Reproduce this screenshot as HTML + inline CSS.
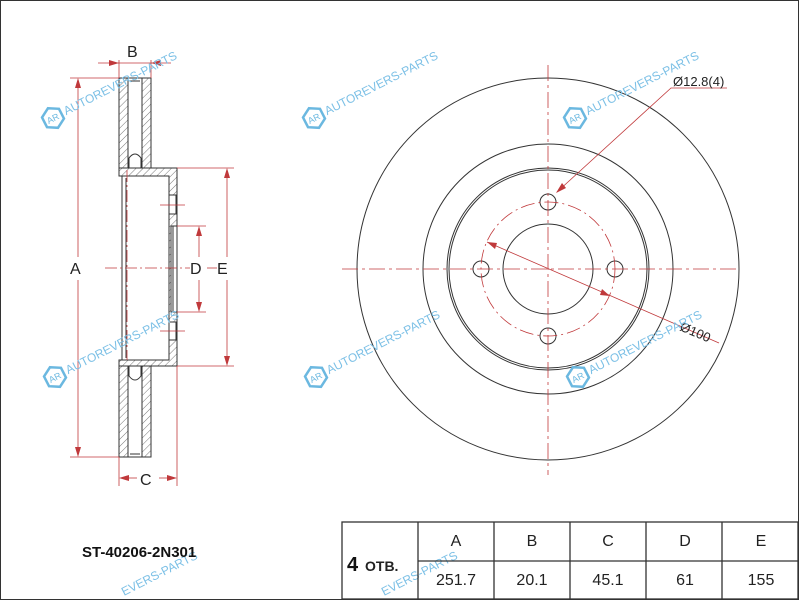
<!DOCTYPE html>
<html><head><meta charset="utf-8"><style>
html,body{margin:0;padding:0;background:#fff;width:800px;height:600px;overflow:hidden;}
svg{display:block;font-family:"Liberation Sans",Arial,sans-serif;}
</style></head><body>
<svg width="800" height="600" viewBox="0 0 800 600" xmlns="http://www.w3.org/2000/svg">
<defs>
<pattern id="h" patternUnits="userSpaceOnUse" width="5" height="5" patternTransform="rotate(45)">
<rect width="5" height="5" fill="#fff"/><line x1="0" y1="0" x2="0" y2="5" stroke="#555" stroke-width="0.8"/>
</pattern>
<g id="wm">
<polygon points="0,-11 9.5,-5.5 9.5,5.5 0,11 -9.5,5.5 -9.5,-5.5" fill="none" stroke="#6bb8e0" stroke-width="2.5" transform="rotate(-27)"/>
<text x="-6.5" y="3.5" font-size="9" fill="#6bb8e0" transform="rotate(-27)">AR</text>
<text x="13" y="3.5" font-size="12" fill="#7cc0e6" transform="rotate(-27)">AUTOREVERS-PARTS</text>
</g>
</defs>
<rect x="0.5" y="0.5" width="798" height="599" fill="#fff" stroke="#333" stroke-width="1"/>

<g stroke="#333" stroke-width="1">
<rect x="119" y="78" width="9" height="90" fill="url(#h)"/>
<rect x="142" y="78" width="9" height="90" fill="url(#h)"/>
<rect x="119" y="366" width="9" height="91" fill="url(#h)"/>
<rect x="142" y="366" width="9" height="91" fill="url(#h)"/>
<line x1="128" y1="78" x2="142" y2="78"/><line x1="128" y1="457" x2="142" y2="457"/>
<line x1="130" y1="81" x2="140" y2="81"/><line x1="130" y1="454" x2="140" y2="454"/>
<path d="M129,168 L129,158 Q135,150 141,158 L141,168" fill="none"/>
<path d="M129,366 L129,376 Q135,384 141,376 L141,366" fill="none"/>
<path d="M119,168 L177,168 L177,366 L119,366 L119,360 L169,360 L169,176 L119,176 Z" fill="url(#h)"/>
<rect x="122" y="176" width="47" height="184" fill="#fff"/>
<line x1="122" y1="176" x2="122" y2="360"/>
<line x1="126" y1="178" x2="126" y2="358"/>
<rect x="169" y="195" width="7" height="19" fill="#fff"/>
<rect x="169" y="322" width="7" height="18" fill="#fff"/>
<rect x="171" y="226" width="6" height="86" fill="#fff"/>
<line x1="173" y1="226" x2="173" y2="312"/>
</g>
<g stroke="#c0393b" stroke-width="0.8" fill="none">
<line x1="105" y1="268" x2="190" y2="268" stroke-dasharray="12,3,2,3"/>
<line x1="127" y1="170" x2="127" y2="360" stroke-dasharray="12,3,2,3"/>
<line x1="160" y1="205" x2="185" y2="205"/><line x1="160" y1="331" x2="185" y2="331"/>
<line x1="70" y1="78" x2="119" y2="78"/><line x1="70" y1="457" x2="119" y2="457"/>
<line x1="78" y1="80" x2="78" y2="257"/><line x1="78" y1="280" x2="78" y2="455"/>
<line x1="119" y1="60" x2="119" y2="78"/><line x1="151" y1="60" x2="151" y2="78"/>
<line x1="98" y1="63" x2="171" y2="63"/>
<line x1="119" y1="457" x2="119" y2="486"/><line x1="177" y1="366" x2="177" y2="486"/>
<line x1="121" y1="478" x2="137" y2="478"/><line x1="159" y1="478" x2="175" y2="478"/>
<line x1="177" y1="168" x2="234" y2="168"/><line x1="177" y1="366" x2="234" y2="366"/>
<line x1="227" y1="170" x2="227" y2="257"/><line x1="227" y1="280" x2="227" y2="364"/>
<line x1="177" y1="226" x2="206" y2="226"/><line x1="177" y1="312" x2="206" y2="312"/>
<line x1="199" y1="228" x2="199" y2="257"/><line x1="199" y1="280" x2="199" y2="310"/>
<line x1="207" y1="268" x2="217" y2="268"/>
</g>
<g fill="#c0393b">
<polygon points="78,78 75,88 81,88"/><polygon points="78,457 75,447 81,447"/>
<polygon points="119,63 109,60 109,66"/><polygon points="151,63 161,60 161,66"/>
<polygon points="119,478 129,475 129,481"/><polygon points="177,478 167,475 167,481"/>
<polygon points="227,168 224,178 230,178"/><polygon points="227,366 224,356 230,356"/>
<polygon points="199,226 196,236 202,236"/><polygon points="199,312 196,302 202,302"/>
</g>
<g font-size="16" fill="#222">
<text x="127" y="57">B</text>
<text x="70" y="274">A</text>
<text x="190" y="274">D</text>
<text x="217" y="274">E</text>
<text x="140" y="485">C</text>
</g>

<g stroke="#333" stroke-width="1" fill="none">
<circle cx="548" cy="269" r="191"/>
<circle cx="548" cy="269" r="125"/>
<circle cx="548" cy="269" r="101"/>
<circle cx="548" cy="269" r="99"/>
<circle cx="548" cy="269" r="45"/>
<circle cx="548" cy="202" r="8"/>
<circle cx="481" cy="269" r="8"/>
<circle cx="615" cy="269" r="8"/>
<circle cx="548" cy="336" r="8"/>
</g>
<g stroke="#c0393b" stroke-width="0.8" fill="none">
<circle cx="548" cy="269" r="67" stroke-dasharray="14,4,2,4"/>
<line x1="548" y1="65" x2="548" y2="475" stroke-dasharray="16,4,3,4"/>
<line x1="342" y1="269" x2="740" y2="269" stroke-dasharray="16,4,3,4"/>
<polyline points="557,192 671,88 727,88"/>
<line x1="487" y1="242" x2="719" y2="343"/>
</g>
<g fill="#c0393b">
<polygon points="556,193 562,183 566,188"/>
<polygon points="487,242 497,243 495,249"/>
<polygon points="610,296 600,295 602,289"/>
</g>
<text x="673" y="86" font-size="13" fill="#222">Ø12.8(4)</text>
<text x="679" y="330" font-size="13" fill="#222" transform="rotate(23 679 330)">Ø100</text>

<use href="#wm" x="53" y="118"/>
<use href="#wm" x="314" y="118"/>
<use href="#wm" x="575" y="118"/>
<use href="#wm" x="55" y="377"/>
<use href="#wm" x="316" y="377"/>
<use href="#wm" x="578" y="377"/>
<text x="124" y="596" font-size="12" fill="#7cc0e6" transform="rotate(-27 124 596)">EVERS-PARTS</text>
<text x="384" y="596" font-size="12" fill="#7cc0e6" transform="rotate(-27 384 596)">EVERS-PARTS</text>

<text x="82" y="557" font-size="15" font-weight="bold" fill="#111">ST-40206-2N301</text>

<g stroke="#333" stroke-width="1.3" fill="none">
<rect x="342" y="522" width="456" height="77"/>
<line x1="418" y1="522" x2="418" y2="599"/>
<line x1="494" y1="522" x2="494" y2="599"/>
<line x1="570" y1="522" x2="570" y2="599"/>
<line x1="646" y1="522" x2="646" y2="599"/>
<line x1="722" y1="522" x2="722" y2="599"/>
<line x1="418" y1="561" x2="798" y2="561"/>
</g>
<g font-size="16" fill="#222" text-anchor="middle">
<text x="456" y="546">A</text><text x="532" y="546">B</text><text x="608" y="546">C</text><text x="685" y="546">D</text><text x="761" y="546">E</text>
<text x="456" y="585">251.7</text><text x="532" y="585">20.1</text><text x="608" y="585">45.1</text><text x="685" y="585">61</text><text x="761" y="585">155</text>
</g>
<text x="347" y="571" font-size="20" font-weight="bold" fill="#111">4</text>
<text x="365" y="571" font-size="14" font-weight="bold" fill="#222">ОТВ.</text>
</svg>
</body></html>
